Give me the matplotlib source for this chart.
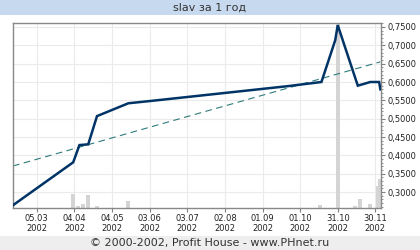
import datetime as dt
import matplotlib
matplotlib.use('Agg')
import matplotlib.pyplot as plt
import matplotlib.dates as mdates
from matplotlib.ticker import MultipleLocator, FuncFormatter
from matplotlib.patches import Rectangle

# price line (key points)
price_dates = ['2002-02-14', '2002-04-03', '2002-04-08', '2002-04-15', '2002-04-22',
               '2002-05-17', '2002-06-03', '2002-09-22', '2002-10-18', '2002-10-29',
               '2002-10-31', '2002-11-16', '2002-11-26', '2002-12-03', '2002-12-04']
prices = [0.264, 0.381, 0.428, 0.430, 0.507, 0.542, 0.548, 0.589, 0.600, 0.714,
          0.755, 0.590, 0.600, 0.600, 0.580]

# trend line end points
trend_dates = ['2002-02-14', '2002-12-04']
trend_vals = [0.371, 0.655]

# volume bars
vol_dates = ['2002-04-03', '2002-04-07', '2002-04-11', '2002-04-15', '2002-04-22',
             '2002-05-17', '2002-10-17', '2002-10-31', '2002-11-14', '2002-11-18',
             '2002-11-26', '2002-12-02', '2002-12-04']
volumes = [76, 11, 22, 70, 11, 38, 14, 1000, 11, 49, 22, 119, 157]

tick_dates = ['2002-03-05', '2002-04-04', '2002-05-04', '2002-06-03', '2002-07-03',
              '2002-08-02', '2002-09-01', '2002-10-01', '2002-10-31', '2002-11-30']


def to_dt(lst):
    return [dt.datetime.strptime(s, '%Y-%m-%d') for s in lst]


fig = plt.figure(figsize=(4.2, 2.5), dpi=100)
fig.patch.set_facecolor('white')

# title band and footer band
fig.patches.append(Rectangle((0, 1 - 15 / 250), 1, 15 / 250, transform=fig.transFigure,
                             facecolor='#c6d9ee', edgecolor='none', zorder=0))
fig.patches.append(Rectangle((0, 0), 1, 14 / 250, transform=fig.transFigure,
                             facecolor='#eeeeee', edgecolor='none', zorder=0))
fig.text(0.5, 1 - 8 / 250, 'slav за 1 год', ha='center', va='center', fontsize=8, color='#333333')
fig.text(0.5, 7 / 250, '© 2000-2002, Profit House - www.PHnet.ru', ha='center', va='center',
         fontsize=8, color='#333333')

ax = fig.add_axes([13 / 420, 1 - 208 / 250, 368 / 420, 185 / 250])
ax.set_axisbelow(True)

# volume as fraction of axes height
vmax = max(volumes)
ax.bar(to_dt(vol_dates), [v / vmax for v in volumes], width=3, color='#d4d4d4',
       transform=ax.get_xaxis_transform(), zorder=1)

ax.plot(to_dt(trend_dates), trend_vals, color='#2e7b7b', lw=0.8, dashes=(6, 4), zorder=2)
ax.plot(to_dt(price_dates), prices, color='#003366', lw=1.8, zorder=3, solid_joinstyle='miter')

ax.set_xlim(dt.datetime(2002, 2, 14), dt.datetime(2002, 12, 4, 12))
ax.set_ylim(0.2564, 0.7609)

ax.set_xticks(to_dt(tick_dates))
ax.set_xticklabels([d.strftime('%d.%m\n%Y') for d in to_dt(tick_dates)])
ax.yaxis.tick_right()
ax.yaxis.set_major_locator(MultipleLocator(0.05))
ax.yaxis.set_minor_locator(MultipleLocator(0.01))
ax.yaxis.set_major_formatter(FuncFormatter(lambda v, p: ('%.4f' % v).replace('.', ',')))

ax.tick_params(axis='both', which='major', labelsize=6, length=3, color='#808080',
               labelcolor='#222222', pad=2)
ax.tick_params(axis='y', which='minor', length=1.5, color='#808080')
ax.tick_params(axis='x', pad=1)
ax.grid(True, color='#ebebeb', lw=0.8)
for s in ax.spines.values():
    s.set_color('#888888')
    s.set_linewidth(1)

fig.savefig('out.png', dpi=100)
